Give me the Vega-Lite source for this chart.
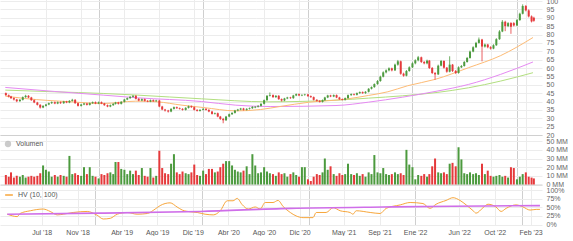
{
"$schema": "https://vega.github.io/schema/vega-lite/v6.json",
"padding": {"top": -3, "left": 0, "right": 0, "bottom": 0},
"spacing": 1,
"bounds": "flush",
"resolve": {"scale": {"fill": "independent", "stroke": "independent"}, "legend": {"fill": "independent", "stroke": "independent"}},
"config": {
 "view": {"stroke": null},
 "font": "Liberation Sans",
 "axis": {"labelFont": "Liberation Sans", "labelFontSize": 7, "labelColor": "#666", "ticks": false, "domain": false, "title": null, "gridColor": "#ececec", "gridWidth": 1, "labelOverlap": false},
 "legend": {"labelFont": "Liberation Sans", "labelFontSize": 7, "labelColor": "#555", "title": null, "padding": 0, "offset": 4}
},
"datasets": {
"c": [
{"d":"2018-02-11","o":45.0,"h":45.4,"l":43.4,"c":43.8,"v":11},
{"d":"2018-02-21","o":43.8,"h":44.2,"l":42.4,"c":43.0,"v":9},
{"d":"2018-03-01","o":43.0,"h":43.4,"l":41.5,"c":42.0,"v":14},
{"d":"2018-03-11","o":42.0,"h":42.5,"l":40.6,"c":41.2,"v":8},
{"d":"2018-03-21","o":41.2,"h":41.6,"l":39.6,"c":40.2,"v":10},
{"d":"2018-04-01","o":40.2,"h":41.5,"l":39.8,"c":41.0,"v":9},
{"d":"2018-04-11","o":41.0,"h":43.0,"l":40.6,"c":42.6,"v":11},
{"d":"2018-04-21","o":42.6,"h":44.0,"l":42.2,"c":43.4,"v":8},
{"d":"2018-05-01","o":43.4,"h":43.8,"l":42.0,"c":42.4,"v":9},
{"d":"2018-05-11","o":42.4,"h":42.8,"l":40.4,"c":40.8,"v":10},
{"d":"2018-05-21","o":40.8,"h":41.2,"l":39.0,"c":39.4,"v":9},
{"d":"2018-06-01","o":39.4,"h":39.8,"l":37.6,"c":38.0,"v":10},
{"d":"2018-06-11","o":38.0,"h":38.4,"l":35.8,"c":36.4,"v":13},
{"d":"2018-06-21","o":36.4,"h":37.8,"l":36.0,"c":37.4,"v":22},
{"d":"2018-07-01","o":37.4,"h":38.6,"l":37.0,"c":38.2,"v":17},
{"d":"2018-07-11","o":38.2,"h":39.4,"l":37.8,"c":39.0,"v":15},
{"d":"2018-07-21","o":39.0,"h":40.0,"l":38.6,"c":39.6,"v":9},
{"d":"2018-08-01","o":39.6,"h":40.0,"l":38.4,"c":38.8,"v":11},
{"d":"2018-08-11","o":38.8,"h":40.0,"l":38.4,"c":39.6,"v":9},
{"d":"2018-08-21","o":39.6,"h":40.0,"l":38.6,"c":39.0,"v":11},
{"d":"2018-09-01","o":39.0,"h":40.4,"l":38.6,"c":40.0,"v":10},
{"d":"2018-09-11","o":40.0,"h":40.4,"l":39.0,"c":39.4,"v":9},
{"d":"2018-09-21","o":39.4,"h":40.8,"l":39.0,"c":40.4,"v":33},
{"d":"2018-10-01","o":40.4,"h":41.6,"l":40.0,"c":41.0,"v":12},
{"d":"2018-10-11","o":41.0,"h":41.4,"l":38.6,"c":39.0,"v":13},
{"d":"2018-10-21","o":39.0,"h":39.4,"l":37.0,"c":37.4,"v":11},
{"d":"2018-11-01","o":37.4,"h":38.6,"l":37.0,"c":38.2,"v":10},
{"d":"2018-11-11","o":38.2,"h":39.2,"l":37.8,"c":38.8,"v":20},
{"d":"2018-11-21","o":38.8,"h":39.2,"l":37.6,"c":38.0,"v":12},
{"d":"2018-12-01","o":38.0,"h":39.4,"l":37.6,"c":39.0,"v":20},
{"d":"2018-12-11","o":39.0,"h":40.0,"l":38.6,"c":39.6,"v":10},
{"d":"2018-12-21","o":39.6,"h":40.0,"l":38.4,"c":38.8,"v":9},
{"d":"2019-01-01","o":38.8,"h":40.0,"l":38.4,"c":39.6,"v":7},
{"d":"2019-01-11","o":39.6,"h":40.0,"l":38.4,"c":38.8,"v":12},
{"d":"2019-01-21","o":38.8,"h":39.2,"l":37.4,"c":37.8,"v":11},
{"d":"2019-02-01","o":37.8,"h":38.2,"l":36.6,"c":37.0,"v":13},
{"d":"2019-02-11","o":37.0,"h":38.2,"l":36.6,"c":37.8,"v":14},
{"d":"2019-02-21","o":37.8,"h":39.0,"l":37.4,"c":38.6,"v":12},
{"d":"2019-03-01","o":38.6,"h":39.8,"l":38.2,"c":39.4,"v":26},
{"d":"2019-03-11","o":39.4,"h":39.8,"l":38.2,"c":38.6,"v":26},
{"d":"2019-03-21","o":38.6,"h":40.2,"l":38.2,"c":39.8,"v":18},
{"d":"2019-04-01","o":39.8,"h":41.6,"l":39.4,"c":41.2,"v":17},
{"d":"2019-04-11","o":41.2,"h":42.4,"l":40.8,"c":42.0,"v":12},
{"d":"2019-04-21","o":42.0,"h":43.2,"l":41.6,"c":42.8,"v":16},
{"d":"2019-05-01","o":42.8,"h":43.8,"l":42.4,"c":43.4,"v":12},
{"d":"2019-05-11","o":43.4,"h":43.8,"l":41.2,"c":41.6,"v":16},
{"d":"2019-05-21","o":41.6,"h":42.0,"l":40.2,"c":40.6,"v":11},
{"d":"2019-06-01","o":40.6,"h":41.8,"l":40.2,"c":41.4,"v":19},
{"d":"2019-06-11","o":41.4,"h":41.8,"l":40.0,"c":40.4,"v":10},
{"d":"2019-06-21","o":40.4,"h":40.8,"l":39.6,"c":40.0,"v":9},
{"d":"2019-07-01","o":40.0,"h":41.2,"l":39.6,"c":40.8,"v":19},
{"d":"2019-07-11","o":40.8,"h":41.2,"l":39.8,"c":40.2,"v":8},
{"d":"2019-07-21","o":40.2,"h":41.0,"l":39.8,"c":40.6,"v":10},
{"d":"2019-08-01","o":40.6,"h":41.0,"l":36.6,"c":37.0,"v":39},
{"d":"2019-08-11","o":37.0,"h":37.4,"l":34.8,"c":35.2,"v":19},
{"d":"2019-08-21","o":35.2,"h":35.6,"l":34.0,"c":34.6,"v":13},
{"d":"2019-09-01","o":34.6,"h":35.0,"l":33.4,"c":34.0,"v":12},
{"d":"2019-09-11","o":34.0,"h":36.0,"l":33.6,"c":35.6,"v":24},
{"d":"2019-09-21","o":35.6,"h":37.0,"l":35.2,"c":36.6,"v":35},
{"d":"2019-10-01","o":36.6,"h":37.0,"l":35.6,"c":36.0,"v":14},
{"d":"2019-10-11","o":36.0,"h":36.4,"l":35.2,"c":35.6,"v":12},
{"d":"2019-10-21","o":35.6,"h":36.0,"l":34.6,"c":35.0,"v":15},
{"d":"2019-11-01","o":35.0,"h":36.6,"l":34.6,"c":36.2,"v":13},
{"d":"2019-11-11","o":36.2,"h":37.6,"l":35.8,"c":37.2,"v":12},
{"d":"2019-11-21","o":37.2,"h":37.6,"l":36.2,"c":36.6,"v":14},
{"d":"2019-12-01","o":36.6,"h":37.0,"l":34.6,"c":35.0,"v":23},
{"d":"2019-12-11","o":35.0,"h":35.4,"l":34.0,"c":34.4,"v":11},
{"d":"2019-12-21","o":34.4,"h":35.4,"l":34.0,"c":35.0,"v":10},
{"d":"2020-01-01","o":35.0,"h":36.0,"l":34.6,"c":35.6,"v":16},
{"d":"2020-01-11","o":35.6,"h":36.0,"l":34.6,"c":35.0,"v":12},
{"d":"2020-01-21","o":35.0,"h":35.4,"l":33.6,"c":34.0,"v":18},
{"d":"2020-02-01","o":34.0,"h":34.4,"l":32.2,"c":32.6,"v":18},
{"d":"2020-02-11","o":32.6,"h":33.4,"l":32.2,"c":33.0,"v":14},
{"d":"2020-02-21","o":33.0,"h":33.4,"l":30.6,"c":31.0,"v":15},
{"d":"2020-03-01","o":31.0,"h":31.4,"l":29.0,"c":29.6,"v":20},
{"d":"2020-03-11","o":29.6,"h":30.2,"l":27.0,"c":28.8,"v":24},
{"d":"2020-03-21","o":28.8,"h":31.4,"l":28.4,"c":31.0,"v":27},
{"d":"2020-04-01","o":31.0,"h":32.8,"l":30.6,"c":32.4,"v":27},
{"d":"2020-04-11","o":32.4,"h":33.6,"l":32.0,"c":33.2,"v":22},
{"d":"2020-04-21","o":33.2,"h":35.0,"l":32.8,"c":34.6,"v":17},
{"d":"2020-05-01","o":34.6,"h":35.6,"l":34.2,"c":35.2,"v":15},
{"d":"2020-05-11","o":35.2,"h":36.2,"l":34.8,"c":35.8,"v":14},
{"d":"2020-05-21","o":35.8,"h":36.2,"l":34.6,"c":35.0,"v":16},
{"d":"2020-06-01","o":35.0,"h":36.0,"l":34.6,"c":35.6,"v":21},
{"d":"2020-06-11","o":35.6,"h":36.4,"l":35.2,"c":36.0,"v":12},
{"d":"2020-06-21","o":36.0,"h":37.2,"l":35.6,"c":36.8,"v":35},
{"d":"2020-07-01","o":36.4,"h":37.2,"l":36.0,"c":36.9,"v":22},
{"d":"2020-07-11","o":36.9,"h":37.8,"l":36.4,"c":37.4,"v":13},
{"d":"2020-07-21","o":37.4,"h":39.0,"l":37.0,"c":38.6,"v":14},
{"d":"2020-08-01","o":38.6,"h":41.2,"l":38.2,"c":40.8,"v":20},
{"d":"2020-08-11","o":40.8,"h":43.8,"l":40.4,"c":43.4,"v":15},
{"d":"2020-08-21","o":43.4,"h":45.4,"l":43.0,"c":43.8,"v":13},
{"d":"2020-09-01","o":43.8,"h":44.2,"l":42.2,"c":42.6,"v":12},
{"d":"2020-09-11","o":42.6,"h":43.8,"l":42.2,"c":43.4,"v":10},
{"d":"2020-09-21","o":43.4,"h":43.8,"l":41.0,"c":41.4,"v":14},
{"d":"2020-10-01","o":41.4,"h":41.8,"l":40.0,"c":40.6,"v":12},
{"d":"2020-10-11","o":40.6,"h":42.2,"l":40.2,"c":41.8,"v":13},
{"d":"2020-10-21","o":41.8,"h":42.8,"l":41.4,"c":42.4,"v":9},
{"d":"2020-11-01","o":42.4,"h":42.8,"l":41.6,"c":42.0,"v":12},
{"d":"2020-11-11","o":42.0,"h":44.0,"l":41.6,"c":43.6,"v":14},
{"d":"2020-11-21","o":43.6,"h":44.8,"l":43.2,"c":44.4,"v":11},
{"d":"2020-12-01","o":44.4,"h":44.8,"l":43.2,"c":43.6,"v":9},
{"d":"2020-12-11","o":43.6,"h":44.4,"l":43.2,"c":43.9,"v":20},
{"d":"2020-12-21","o":43.9,"h":44.6,"l":43.4,"c":44.2,"v":20},
{"d":"2021-01-01","o":44.2,"h":44.6,"l":42.8,"c":43.2,"v":6},
{"d":"2021-01-11","o":43.2,"h":43.6,"l":42.2,"c":42.6,"v":4},
{"d":"2021-01-21","o":42.6,"h":43.0,"l":40.6,"c":41.0,"v":9},
{"d":"2021-02-01","o":41.0,"h":41.4,"l":40.0,"c":40.4,"v":12},
{"d":"2021-02-11","o":40.4,"h":40.8,"l":39.4,"c":39.8,"v":11},
{"d":"2021-02-21","o":39.8,"h":41.2,"l":39.4,"c":40.8,"v":14},
{"d":"2021-03-01","o":40.8,"h":42.8,"l":40.4,"c":42.4,"v":30},
{"d":"2021-03-11","o":42.4,"h":44.0,"l":42.0,"c":43.6,"v":17},
{"d":"2021-03-21","o":43.6,"h":44.0,"l":42.6,"c":43.0,"v":21},
{"d":"2021-04-01","o":43.0,"h":44.2,"l":42.6,"c":43.8,"v":12},
{"d":"2021-04-11","o":43.8,"h":44.2,"l":42.0,"c":42.4,"v":10},
{"d":"2021-04-21","o":42.4,"h":42.8,"l":41.0,"c":41.4,"v":13},
{"d":"2021-05-01","o":41.4,"h":41.8,"l":40.6,"c":41.0,"v":11},
{"d":"2021-05-11","o":41.0,"h":42.4,"l":40.6,"c":42.0,"v":12},
{"d":"2021-05-21","o":42.0,"h":44.2,"l":41.6,"c":43.8,"v":24},
{"d":"2021-06-01","o":43.8,"h":44.8,"l":43.4,"c":44.4,"v":12},
{"d":"2021-06-11","o":44.4,"h":44.8,"l":43.6,"c":44.0,"v":11},
{"d":"2021-06-21","o":44.0,"h":45.4,"l":43.6,"c":45.0,"v":13},
{"d":"2021-07-01","o":45.0,"h":46.0,"l":44.6,"c":45.6,"v":10},
{"d":"2021-07-11","o":45.6,"h":46.0,"l":44.6,"c":45.0,"v":12},
{"d":"2021-07-21","o":45.0,"h":46.2,"l":44.6,"c":45.8,"v":9},
{"d":"2021-08-01","o":45.8,"h":48.0,"l":45.4,"c":47.6,"v":14},
{"d":"2021-08-11","o":47.6,"h":49.0,"l":47.2,"c":48.6,"v":12},
{"d":"2021-08-21","o":48.6,"h":50.8,"l":48.2,"c":50.4,"v":34},
{"d":"2021-09-01","o":50.4,"h":52.8,"l":50.0,"c":52.2,"v":14},
{"d":"2021-09-11","o":52.2,"h":55.4,"l":51.8,"c":54.8,"v":13},
{"d":"2021-09-21","o":54.8,"h":58.0,"l":54.4,"c":57.4,"v":19},
{"d":"2021-10-01","o":57.4,"h":59.2,"l":56.8,"c":58.6,"v":12},
{"d":"2021-10-11","o":58.6,"h":60.4,"l":58.0,"c":59.8,"v":11},
{"d":"2021-10-21","o":59.8,"h":60.2,"l":58.0,"c":58.6,"v":12},
{"d":"2021-11-01","o":58.6,"h":62.6,"l":58.2,"c":62.0,"v":14},
{"d":"2021-11-11","o":62.0,"h":64.8,"l":61.4,"c":64.0,"v":12},
{"d":"2021-11-21","o":64.0,"h":64.4,"l":56.0,"c":56.6,"v":13},
{"d":"2021-12-01","o":56.6,"h":57.2,"l":54.8,"c":55.4,"v":11},
{"d":"2021-12-11","o":55.4,"h":58.8,"l":55.0,"c":58.2,"v":40},
{"d":"2021-12-21","o":58.2,"h":61.0,"l":57.8,"c":60.4,"v":23},
{"d":"2022-01-01","o":60.4,"h":63.4,"l":60.0,"c":62.8,"v":20},
{"d":"2022-01-11","o":62.8,"h":65.2,"l":62.2,"c":64.6,"v":6},
{"d":"2022-01-21","o":64.6,"h":67.2,"l":64.0,"c":66.4,"v":11},
{"d":"2022-02-01","o":66.4,"h":66.8,"l":63.0,"c":63.6,"v":10},
{"d":"2022-02-11","o":63.6,"h":64.2,"l":62.2,"c":62.8,"v":12},
{"d":"2022-02-21","o":62.8,"h":65.0,"l":62.2,"c":64.4,"v":9},
{"d":"2022-03-01","o":64.4,"h":64.8,"l":59.4,"c":60.0,"v":12},
{"d":"2022-03-11","o":60.0,"h":60.6,"l":56.4,"c":57.0,"v":21},
{"d":"2022-03-21","o":57.0,"h":57.6,"l":53.0,"c":56.2,"v":30},
{"d":"2022-04-01","o":56.2,"h":62.0,"l":55.8,"c":61.4,"v":14},
{"d":"2022-04-11","o":61.4,"h":64.8,"l":61.0,"c":64.2,"v":13},
{"d":"2022-04-21","o":64.2,"h":64.6,"l":59.6,"c":60.2,"v":14},
{"d":"2022-05-01","o":60.2,"h":60.6,"l":57.2,"c":57.8,"v":12},
{"d":"2022-05-11","o":57.8,"h":67.0,"l":57.4,"c":62.0,"v":24},
{"d":"2022-05-21","o":62.0,"h":62.4,"l":57.6,"c":58.2,"v":25},
{"d":"2022-06-01","o":58.2,"h":58.8,"l":56.4,"c":57.0,"v":21},
{"d":"2022-06-11","o":57.0,"h":61.0,"l":56.6,"c":60.4,"v":43},
{"d":"2022-06-21","o":60.4,"h":61.8,"l":60.0,"c":61.2,"v":29},
{"d":"2022-07-01","o":61.2,"h":64.2,"l":60.8,"c":63.6,"v":13},
{"d":"2022-07-11","o":63.6,"h":66.6,"l":63.2,"c":66.0,"v":12},
{"d":"2022-07-21","o":66.0,"h":70.4,"l":65.6,"c":69.8,"v":14},
{"d":"2022-08-01","o":69.8,"h":73.0,"l":69.4,"c":72.4,"v":12},
{"d":"2022-08-11","o":72.4,"h":75.6,"l":72.0,"c":75.0,"v":13},
{"d":"2022-08-21","o":75.0,"h":78.2,"l":74.6,"c":77.0,"v":11},
{"d":"2022-09-01","o":77.0,"h":77.4,"l":64.0,"c":72.8,"v":24},
{"d":"2022-09-11","o":72.8,"h":74.6,"l":72.2,"c":74.0,"v":12},
{"d":"2022-09-21","o":74.0,"h":74.4,"l":71.8,"c":72.4,"v":16},
{"d":"2022-10-01","o":72.4,"h":73.0,"l":71.0,"c":71.6,"v":10},
{"d":"2022-10-11","o":71.6,"h":74.2,"l":71.2,"c":73.6,"v":9},
{"d":"2022-10-21","o":73.6,"h":77.8,"l":73.2,"c":77.2,"v":10},
{"d":"2022-11-01","o":77.2,"h":82.6,"l":76.8,"c":81.8,"v":11},
{"d":"2022-11-11","o":81.8,"h":88.6,"l":81.4,"c":87.6,"v":9},
{"d":"2022-11-21","o":87.6,"h":88.2,"l":82.0,"c":85.0,"v":10},
{"d":"2022-12-01","o":85.0,"h":87.4,"l":84.4,"c":86.8,"v":8},
{"d":"2022-12-11","o":86.8,"h":87.4,"l":80.4,"c":84.6,"v":20},
{"d":"2022-12-21","o":86.8,"h":87.4,"l":84.8,"c":85.4,"v":19},
{"d":"2023-01-01","o":85.4,"h":89.2,"l":85.0,"c":88.6,"v":6},
{"d":"2023-01-11","o":88.6,"h":93.0,"l":88.2,"c":92.4,"v":9},
{"d":"2023-01-21","o":92.4,"h":98.0,"l":92.0,"c":97.0,"v":12},
{"d":"2023-02-01","o":97.0,"h":97.6,"l":93.8,"c":94.4,"v":14},
{"d":"2023-02-11","o":94.4,"h":95.0,"l":90.2,"c":90.8,"v":9},
{"d":"2023-02-21","o":90.8,"h":91.4,"l":87.2,"c":87.8,"v":8},
{"d":"2023-03-01","o":90.0,"h":90.6,"l":87.6,"c":88.2,"v":7}
],
"ma": [
{"d":"2018-02-09","s":"a","p":43.2},{"d":"2018-04-18","s":"a","p":41.8},{"d":"2018-09-26","s":"a","p":39.8},{"d":"2019-01-17","s":"a","p":38.8},{"d":"2019-05-11","s":"a","p":40.2},{"d":"2019-07-25","s":"a","p":39.8},{"d":"2019-10-19","s":"a","p":37.8},{"d":"2020-01-02","s":"a","p":36.4},{"d":"2020-04-24","s":"a","p":34.4},{"d":"2020-07-19","s":"a","p":35.2},{"d":"2020-09-25","s":"a","p":37.0},{"d":"2021-01-06","s":"a","p":39.6},{"d":"2021-05-13","s":"a","p":41.4},{"d":"2021-07-31","s":"a","p":43.6},{"d":"2021-10-07","s":"a","p":45.8},{"d":"2021-12-15","s":"a","p":49.4},{"d":"2022-03-21","s":"a","p":53.2},{"d":"2022-07-16","s":"a","p":60.2},{"d":"2022-11-05","s":"a","p":67.4},{"d":"2023-02-26","s":"a","p":78.2},
{"d":"2018-02-09","s":"b","p":48.4},{"d":"2018-07-30","s":"b","p":46.0},{"d":"2019-01-17","s":"b","p":43.8},{"d":"2019-05-17","s":"b","p":42.2},{"d":"2019-12-26","s":"b","p":40.0},{"d":"2020-04-24","s":"b","p":37.8},{"d":"2020-08-22","s":"b","p":37.0},{"d":"2021-04-09","s":"b","p":37.6},{"d":"2021-07-31","s":"b","p":39.6},{"d":"2021-11-28","s":"b","p":42.6},{"d":"2022-03-28","s":"b","p":46.2},{"d":"2022-07-16","s":"b","p":50.2},{"d":"2022-11-05","s":"b","p":56.2},{"d":"2023-02-26","s":"b","p":63.6},
{"d":"2018-02-09","s":"g","p":46.8},{"d":"2018-07-30","s":"g","p":45.8},{"d":"2019-01-17","s":"g","p":44.8},{"d":"2019-05-17","s":"g","p":43.8},{"d":"2019-12-26","s":"g","p":41.6},{"d":"2020-08-15","s":"g","p":39.8},{"d":"2021-04-09","s":"g","p":40.8},{"d":"2021-07-31","s":"g","p":42.0},{"d":"2021-11-28","s":"g","p":43.4},{"d":"2022-03-28","s":"g","p":45.4},{"d":"2022-07-16","s":"g","p":48.2},{"d":"2022-11-05","s":"g","p":52.2},{"d":"2023-02-26","s":"g","p":57.2}
],
"hv": [
{"d":"2018-03-05","v":30},{"d":"2018-04-08","v":23},{"d":"2018-04-18","v":32},{"d":"2018-05-23","v":40},{"d":"2018-07-06","v":45},{"d":"2018-07-30","v":38},{"d":"2018-08-23","v":28},{"d":"2018-09-13","v":30},{"d":"2018-10-17","v":35},{"d":"2018-12-04","v":38},{"d":"2019-01-07","v":27},{"d":"2019-01-28","v":16},{"d":"2019-02-21","v":18},{"d":"2019-03-17","v":30},{"d":"2019-04-20","v":35},{"d":"2019-05-24","v":30},{"d":"2019-06-28","v":32},{"d":"2019-07-25","v":45},{"d":"2019-08-11","v":55},{"d":"2019-09-14","v":63},{"d":"2019-10-08","v":51},{"d":"2019-10-26","v":42},{"d":"2019-11-22","v":37},{"d":"2019-12-16","v":35},{"d":"2020-01-12","v":30},{"d":"2020-02-09","v":28},{"d":"2020-03-04","v":40},{"d":"2020-03-28","v":69},{"d":"2020-04-17","v":69},{"d":"2020-05-01","v":76},{"d":"2020-05-18","v":58},{"d":"2020-06-08","v":45},{"d":"2020-07-02","v":51},{"d":"2020-07-19","v":45},{"d":"2020-08-05","v":64},{"d":"2020-09-01","v":64},{"d":"2020-09-18","v":70},{"d":"2020-10-06","v":52},{"d":"2020-10-19","v":42},{"d":"2020-10-30","v":35},{"d":"2020-11-19","v":25},{"d":"2020-12-13","v":20},{"d":"2021-01-16","v":20},{"d":"2021-01-27","v":35},{"d":"2021-03-02","v":35},{"d":"2021-03-26","v":49},{"d":"2021-04-19","v":40},{"d":"2021-05-23","v":35},{"d":"2021-06-02","v":30},{"d":"2021-06-13","v":40},{"d":"2021-07-31","v":35},{"d":"2021-09-03","v":32},{"d":"2021-09-24","v":47},{"d":"2021-11-11","v":57},{"d":"2021-12-15","v":64},{"d":"2022-01-28","v":61},{"d":"2022-02-21","v":47},{"d":"2022-03-14","v":59},{"d":"2022-04-17","v":70},{"d":"2022-05-11","v":78},{"d":"2022-06-04","v":70},{"d":"2022-06-25","v":57},{"d":"2022-07-19","v":40},{"d":"2022-07-29","v":33},{"d":"2022-08-22","v":49},{"d":"2022-09-08","v":59},{"d":"2022-10-05","v":51},{"d":"2022-10-23","v":38},{"d":"2022-11-09","v":47},{"d":"2022-12-13","v":57},{"d":"2023-01-06","v":51},{"d":"2023-01-30","v":42},{"d":"2023-02-20","v":44},{"d":"2023-03-05","v":44}
],
"hva": [
{"d":"2018-03-05","v":30},{"d":"2019-01-17","v":33},{"d":"2019-12-26","v":38},{"d":"2020-10-30","v":47},{"d":"2021-09-13","v":51},{"d":"2022-05-08","v":53},{"d":"2023-03-05","v":55}
]
},
"vconcat": [
{
 "width": 542, "height": 136,
 "encoding": {"x": {"field": "d", "type": "temporal", "scale": {"domain": [{"year":2018,"month":2,"date":8},{"year":2023,"month":3,"date":12}]}, "axis": {"labels": false, "domain": true, "domainColor": "#d0d0d0", "values": [{"year":2018,"month":7,"date":1},{"year":2018,"month":11,"date":1},{"year":2019,"month":1,"date":1},{"year":2019,"month":4,"date":1},{"year":2019,"month":8,"date":1},{"year":2019,"month":12,"date":1},{"year":2020,"month":1,"date":1},{"year":2020,"month":4,"date":1},{"year":2020,"month":8,"date":1},{"year":2020,"month":12,"date":1},{"year":2021,"month":1,"date":1},{"year":2021,"month":5,"date":1},{"year":2021,"month":9,"date":1},{"year":2022,"month":1,"date":1},{"year":2022,"month":6,"date":1},{"year":2022,"month":10,"date":1},{"year":2023,"month":1,"date":1},{"year":2023,"month":2,"date":1}], "gridColor": {"condition": {"test": "month(datum.value)==0", "value": "#cfcfcf"}, "value": "#ececec"}}}},
 "layer": [
  {"data": {"name": "ma"}, "transform": [{"filter": "datum.s=='g'"}], "mark": {"type": "line", "color": "#b2df80", "strokeWidth": 1, "interpolate": "monotone"}, "encoding": {"y": {"field": "p", "type": "quantitative", "scale": {"domain": [20, 101.2], "nice": false, "zero": false}, "axis": {"orient": "right", "values": [20,25,30,35,40,45,50,55,60,65,70,75,80,85,90,95,100], "labelPadding": 4, "labelOverlap": false}}}},
  {"data": {"name": "ma"}, "transform": [{"filter": "datum.s=='b'"}], "mark": {"type": "line", "color": "#e58af2", "strokeWidth": 1, "interpolate": "monotone"}, "encoding": {"y": {"field": "p", "type": "quantitative", "axis": {"orient": "right", "values": [20,25,30,35,40,45,50,55,60,65,70,75,80,85,90,95,100], "labelPadding": 4, "labelOverlap": false}}}},
  {"data": {"name": "ma"}, "transform": [{"filter": "datum.s=='a'"}], "mark": {"type": "line", "color": "#fdbb75", "strokeWidth": 1, "interpolate": "monotone"}, "encoding": {"y": {"field": "p", "type": "quantitative", "axis": {"orient": "right", "values": [20,25,30,35,40,45,50,55,60,65,70,75,80,85,90,95,100], "labelPadding": 4, "labelOverlap": false}}}},
  {"data": {"name": "c"}, "mark": {"type": "rule", "strokeWidth": 0.8}, "encoding": {"y": {"field": "l", "type": "quantitative", "axis": {"orient": "right", "values": [20,25,30,35,40,45,50,55,60,65,70,75,80,85,90,95,100], "labelPadding": 4, "labelOverlap": false}}, "y2": {"field": "h"}, "color": {"condition": {"test": "datum.c >= datum.o", "value": "#4c9a3e"}, "value": "#e5393b"}}},
  {"data": {"name": "c"}, "mark": {"type": "bar", "width": 2}, "encoding": {"y": {"field": "o", "type": "quantitative", "axis": {"orient": "right", "values": [20,25,30,35,40,45,50,55,60,65,70,75,80,85,90,95,100], "labelPadding": 4, "labelOverlap": false}}, "y2": {"field": "c"}, "color": {"condition": {"test": "datum.c >= datum.o", "value": "#4c9a3e"}, "value": "#e5393b"}}}
 ]
},
{
 "width": 542, "height": 48.5,
 "encoding": {"x": {"field": "d", "type": "temporal", "scale": {"domain": [{"year":2018,"month":2,"date":8},{"year":2023,"month":3,"date":12}]}, "axis": {"labels": false, "domain": true, "domainColor": "#d0d0d0", "values": [{"year":2018,"month":7,"date":1},{"year":2018,"month":11,"date":1},{"year":2019,"month":1,"date":1},{"year":2019,"month":4,"date":1},{"year":2019,"month":8,"date":1},{"year":2019,"month":12,"date":1},{"year":2020,"month":1,"date":1},{"year":2020,"month":4,"date":1},{"year":2020,"month":8,"date":1},{"year":2020,"month":12,"date":1},{"year":2021,"month":1,"date":1},{"year":2021,"month":5,"date":1},{"year":2021,"month":9,"date":1},{"year":2022,"month":1,"date":1},{"year":2022,"month":6,"date":1},{"year":2022,"month":10,"date":1},{"year":2023,"month":1,"date":1},{"year":2023,"month":2,"date":1}], "gridColor": {"condition": {"test": "month(datum.value)==0", "value": "#cfcfcf"}, "value": "#ececec"}}}},
 "layer": [
  {"data": {"name": "c"}, "mark": {"type": "bar", "width": 2}, "encoding": {"y": {"field": "v", "type": "quantitative", "scale": {"domain": [0, 56], "nice": false}, "axis": {"orient": "right", "values": [0,10,20,30,40,50], "labelExpr": "datum.value + ' MM'", "labelPadding": 4, "labelOverlap": false}}, "color": {"condition": {"test": "datum.c >= datum.o", "value": "#4c9a3e"}, "value": "#e5393b"}}},
  {"data": {"name": "c"}, "transform": [{"filter": "false"}], "mark": {"type": "point", "filled": true}, "encoding": {"y": {"field": "v", "type": "quantitative", "axis": {"orient": "right", "values": [0,10,20,30,40,50], "labelExpr": "datum.value + ' MM'", "labelPadding": 4, "labelOverlap": false}}, "fill": {"datum": "Volumen", "scale": {"range": ["#b5b5b5"]}, "legend": {"orient": "top-left", "symbolType": "circle", "symbolSize": 40, "offset": 4}}}}
 ]
},
{
 "width": 542, "height": 38.5,
 "encoding": {"x": {"field": "d", "type": "temporal", "scale": {"domain": [{"year":2018,"month":2,"date":8},{"year":2023,"month":3,"date":12}]}, "axis": {"labelPadding": 4, "labelColor": "#555", "values": [{"year":2018,"month":7,"date":1},{"year":2018,"month":11,"date":1},{"year":2019,"month":1,"date":1},{"year":2019,"month":4,"date":1},{"year":2019,"month":8,"date":1},{"year":2019,"month":12,"date":1},{"year":2020,"month":1,"date":1},{"year":2020,"month":4,"date":1},{"year":2020,"month":8,"date":1},{"year":2020,"month":12,"date":1},{"year":2021,"month":1,"date":1},{"year":2021,"month":5,"date":1},{"year":2021,"month":9,"date":1},{"year":2022,"month":1,"date":1},{"year":2022,"month":6,"date":1},{"year":2022,"month":10,"date":1},{"year":2023,"month":1,"date":1},{"year":2023,"month":2,"date":1}], "labelExpr": "(month(datum.value)==0 && year(datum.value)!=2022) ? '' : ['Ene','Feb','Mar','Abr','May','Jun','Jul','Ago','Sep','Oct','Nov','Dic'][month(datum.value)] + \" '\" + timeFormat(datum.value, '%y')", "gridColor": {"condition": {"test": "month(datum.value)==0", "value": "#cfcfcf"}, "value": "#ececec"}}}},
 "layer": [
  {"data": {"name": "hv"}, "mark": {"type": "line", "strokeWidth": 1, "interpolate": "monotone"}, "encoding": {"y": {"field": "v", "type": "quantitative", "scale": {"domain": [0, 112], "nice": false}, "axis": {"orient": "right", "values": [0,25,50,75,100], "labelExpr": "datum.value + '%'", "labelPadding": 4, "labelOverlap": false}}, "stroke": {"datum": "HV (10, 100)", "scale": {"range": ["#f7a63b"]}, "legend": {"orient": "top-left", "symbolType": "stroke", "symbolStrokeWidth": 1.5, "symbolSize": 60, "offset": 4}}}},
  {"data": {"name": "hva"}, "mark": {"type": "line", "color": "#cf6ee9", "strokeWidth": 1.6, "interpolate": "monotone"}, "encoding": {"y": {"field": "v", "type": "quantitative", "axis": {"orient": "right", "values": [0,25,50,75,100], "labelExpr": "datum.value + '%'", "labelPadding": 4, "labelOverlap": false}}}}
 ]
}
]
}
